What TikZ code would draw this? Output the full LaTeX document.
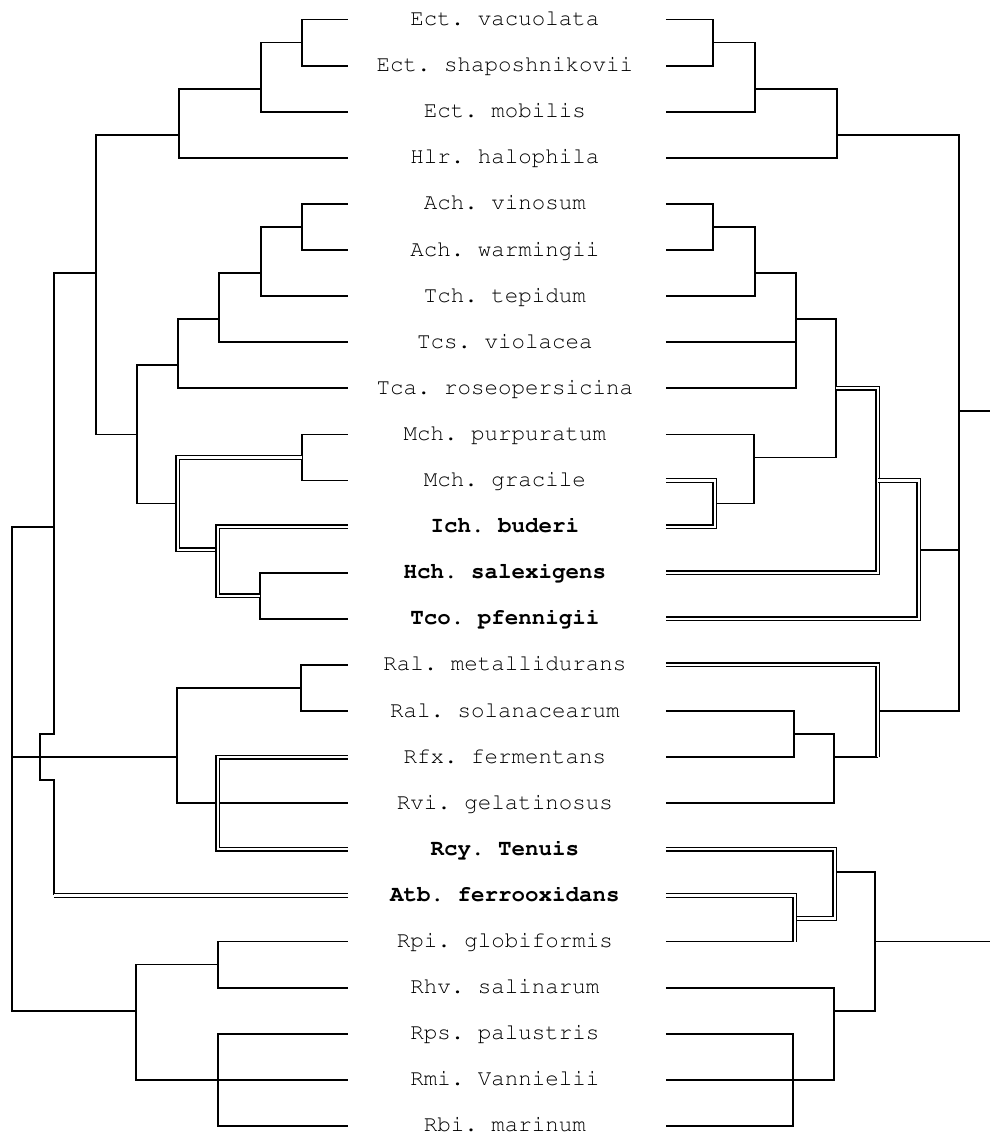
\documentclass[tikz,border=0pt]{standalone}
\usepackage[T1]{fontenc}
\usepackage{courier}
\usepackage{tikz}

\begin{document}
\begin{tikzpicture}[x=1pt, y=-46.1pt,
  br/.style={line width=1.8pt},
  dbl/.style={line width=1.4pt, double=white, double distance=2.2pt},
  taxon/.style={font=\fontsize{22.5}{27}\selectfont\ttfamily, inner sep=0pt, anchor=base, yshift=-6pt},
  taxonb/.style={taxon, font=\fontsize{22.5}{27}\selectfont\ttfamily\bfseries}]
\frenchspacing
\useasboundingbox (0,-0.423) rectangle (990,24.176);

% Taxon names (one row per taxon)
\foreach \r/\nm/\st in {0/Ect. vacuolata/taxon, 1/Ect. shaposhnikovii/taxon,
    2/Ect. mobilis/taxon, 3/Hlr. halophila/taxon, 4/Ach. vinosum/taxon,
    5/Ach. warmingii/taxon, 6/Tch. tepidum/taxon, 7/Tcs. violacea/taxon,
    8/Tca. roseopersicina/taxon, 9/Mch. purpuratum/taxon, 10/Mch. gracile/taxon,
    11/Ich. buderi/taxonb, 12/Hch. salexigens/taxonb, 13/Tco. pfennigii/taxonb,
    14/Ral. metallidurans/taxon, 15/Ral. solanacearum/taxon, 16/Rfx. fermentans/taxon,
    17/Rvi. gelatinosus/taxon, 18/Rcy. Tenuis/taxonb, 19/Atb. ferrooxidans/taxonb,
    20/Rpi. globiformis/taxon, 21/Rhv. salinarum/taxon, 22/Rps. palustris/taxon,
    23/Rmi. Vannielii/taxon, 24/Rbi. marinum/taxon}
  \node[\st] (t\r) at (505,\r) {\nm};

% Left tree
\draw[br] (348,0) -| (302,1) -- (348,1);
\draw[br] (302,0.5) -| (261,2) -- (348,2);
\draw[br] (261,1.5) -| (179,3) -- (348,3);
\draw[br] (179,2.5) -| (96,9) -- (137,9);
\draw[br] (96,5.5) -| (54,15.5) -- (40,15.5) -- (40,16.5) -- (54,16.5) -- (54,19);
\draw[br] (54,11) -| (12,21.5) -- (136,21.5);
\draw[br] (12,16) -- (177,16);
\draw[br] (348,4) -| (302,5) -- (348,5);
\draw[br] (302,4.5) -| (261,6) -- (348,6);
\draw[br] (261,5.5) -| (219,7) -- (348,7);
\draw[br] (219,6.5) -| (178,8) -- (348,8);
\draw[br] (178,7.5) -| (137,10.5) -- (178,10.5);
\draw[br] (348,9) -| (302,10) -- (348,10);
\draw[br] (348,12) -| (260,13) -- (348,13);
\draw[br] (348,14) -| (301,15) -- (348,15);
\draw[br] (301,14.5) -| (177,17) -- (348,17);
\draw[br] (348,20) -| (218,21) -- (348,21);
\draw[br] (218,20.5) -| (136,23) -- (348,23);
\draw[br] (348,22) -| (218,24) -- (348,24);

% Left tree, doubled branches
\draw[dbl] (302,9.5) -| (178,11.5) -- (218,11.5);
\draw[dbl] (348,11) -| (218,12.5) -- (260,12.5);
\draw[dbl] (54,19) -- (348,19);
\draw[dbl] (348,16) -| (218,18) -- (348,18);

% Right tree
\draw[br] (666,0) -| (713,1) -- (666,1);
\draw[br] (713,0.5) -| (755,2) -- (666,2);
\draw[br] (755,1.5) -| (837,3) -- (666,3);
\draw[br] (837,2.5) -| (959,15) -- (878,15);
\draw[br] (959,8.5) -- (990,8.5);
\draw[br] (666,4) -| (713,5) -- (666,5);
\draw[br] (713,4.5) -| (755,6) -- (666,6);
\draw[br] (755,5.5) -| (796,8) -- (666,8);
\draw[br] (666,7) -- (796,7);
\draw[br] (796,6.5) -| (836,9.5) -- (754,9.5);
\draw[br] (666,9) -| (754,10.5) -- (715,10.5);
\draw[br] (919,11.5) -- (959,11.5);
\draw[br] (666,15) -| (794,16) -- (666,16);
\draw[br] (794,15.5) -| (834,17) -- (666,17);
\draw[br] (834,16) -- (878,16);
\draw[br] (835,18.5) -| (875,21.5) -- (834,21.5);
\draw[br] (875,20) -- (990,20);
\draw[br] (666,20) -- (795,20);
\draw[br] (666,21) -| (834,23) -- (666,23);
\draw[br] (666,22) -| (793,24) -- (666,24);

% Right tree, doubled branches
\draw[dbl] (666,10) -| (715,11) -- (666,11);
\draw[dbl] (836,8) -| (878,12) -- (666,12);
\draw[dbl] (878,10) -| (919,13) -- (666,13);
\draw[dbl] (666,14) -| (878,16);
\draw[dbl] (666,18) -| (835,19.5) -- (795,19.5);
\draw[dbl] (666,19) -| (795,20);

\end{tikzpicture}
\end{document}
